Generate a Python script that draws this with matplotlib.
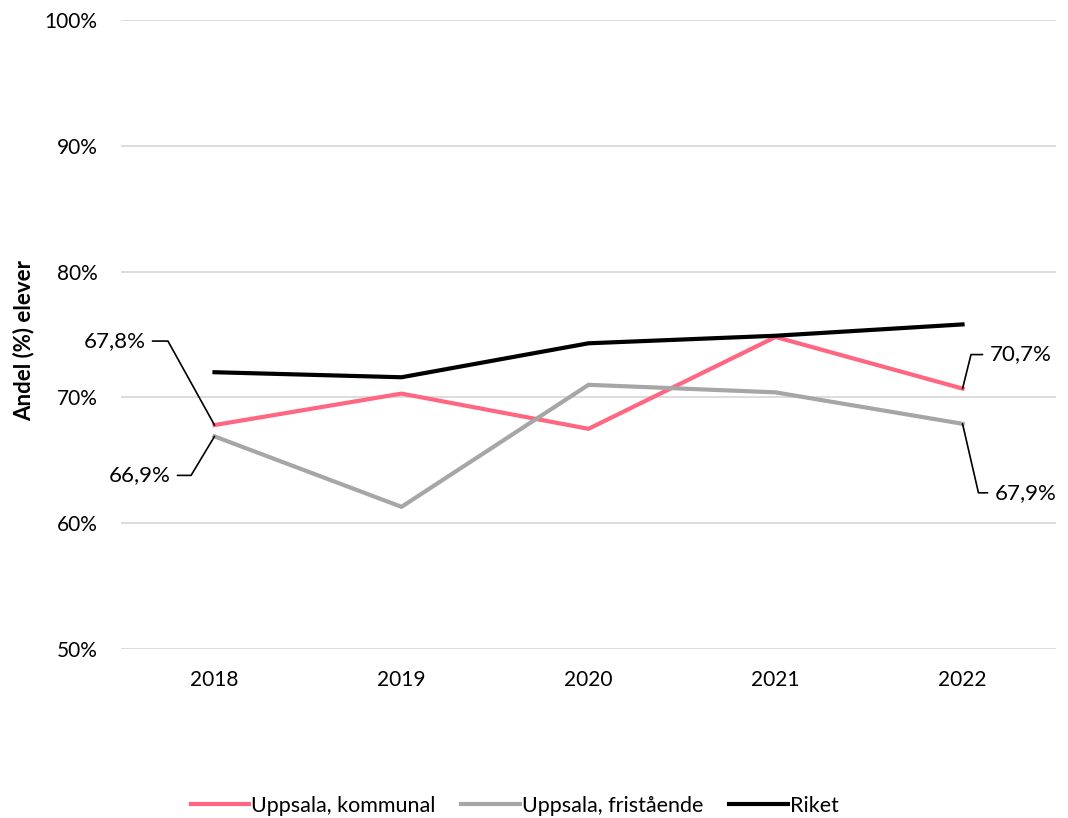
import matplotlib
matplotlib.use('Agg')
import matplotlib.pyplot as plt
from matplotlib.ticker import FuncFormatter

years = ["2018", "2019", "2020", "2021", "2022"]
kommunal = [67.8, 70.3, 67.5, 74.8, 70.7]
friskola = [66.9, 61.3, 71.0, 70.4, 67.9]
riket = [72.0, 71.6, 74.3, 74.9, 75.8]
series_names = ["Uppsala, kommunal", "Uppsala, fristående", "Riket"]

plt.rcParams['font.family'] = ['Lato', 'DejaVu Sans']

fig = plt.figure(figsize=(10.68, 8.18), dpi=100)
ax = fig.add_axes([0.1133, 0.2066, 0.8755, 0.769])

x = range(len(years))
ax.plot(x, kommunal, color="#FF6681", lw=3, label=series_names[0], zorder=3)
ax.plot(x, friskola, color="#A6A6A6", lw=3, label=series_names[1], zorder=3)
ax.plot(x, riket, color="black", lw=3, label=series_names[2], zorder=3)

ax.set_xlim(-0.5, len(years) - 0.5)
ax.set_ylim(50, 100)
ax.set_yticks(range(50, 101, 10))
ax.yaxis.set_major_formatter(FuncFormatter(lambda v, p: f"{v:.0f}%"))
ax.set_xticks(list(x))
ax.set_xticklabels(years)
ax.tick_params(axis='both', length=0, labelsize=15)
ax.tick_params(axis='y', pad=17)
ax.tick_params(axis='x', pad=15)
ax.grid(axis='y', color="#D9D9D9", lw=1.3)
ax.set_axisbelow(True)
for s in ax.spines.values():
    s.set_visible(False)

fig.text(0.022, 0.584, "Andel (%) elever", rotation=90, ha='center', va='center',
         fontsize=16, fontweight='bold')


def fmt(v):
    return f"{v:.1f}%".replace(".", ",")


# leader-line labels at first and last year
labels = [
    (0, kommunal[0], (-69, 84), 'right', (1, 0.5), 119),
    (0, friskola[0], (-44, -39), 'right', (1, 0.5), 59),
    (4, kommunal[4], (27, 34), 'left', (0, 0.5), 76),
    (4, friskola[4], (32, -69), 'left', (0, 0.5), 103),
]
for xi, yv, off, ha, rel, angB in labels:
    ax.annotate(fmt(yv), xy=(xi, yv), xytext=off, textcoords='offset pixels',
                ha=ha, va='center', fontsize=16,
                arrowprops=dict(arrowstyle='-', color='black', lw=1.2,
                                shrinkA=3, shrinkB=0, relpos=rel,
                                connectionstyle=f"angle,angleA=0,angleB={angB},rad=0"))

fig.legend(loc='center', bbox_to_anchor=(0.482, 0.015), ncol=3, frameon=False,
           fontsize=15.5, handlelength=2.7, handletextpad=0.12, columnspacing=1.2)

fig.savefig("out.png", dpi=100)
